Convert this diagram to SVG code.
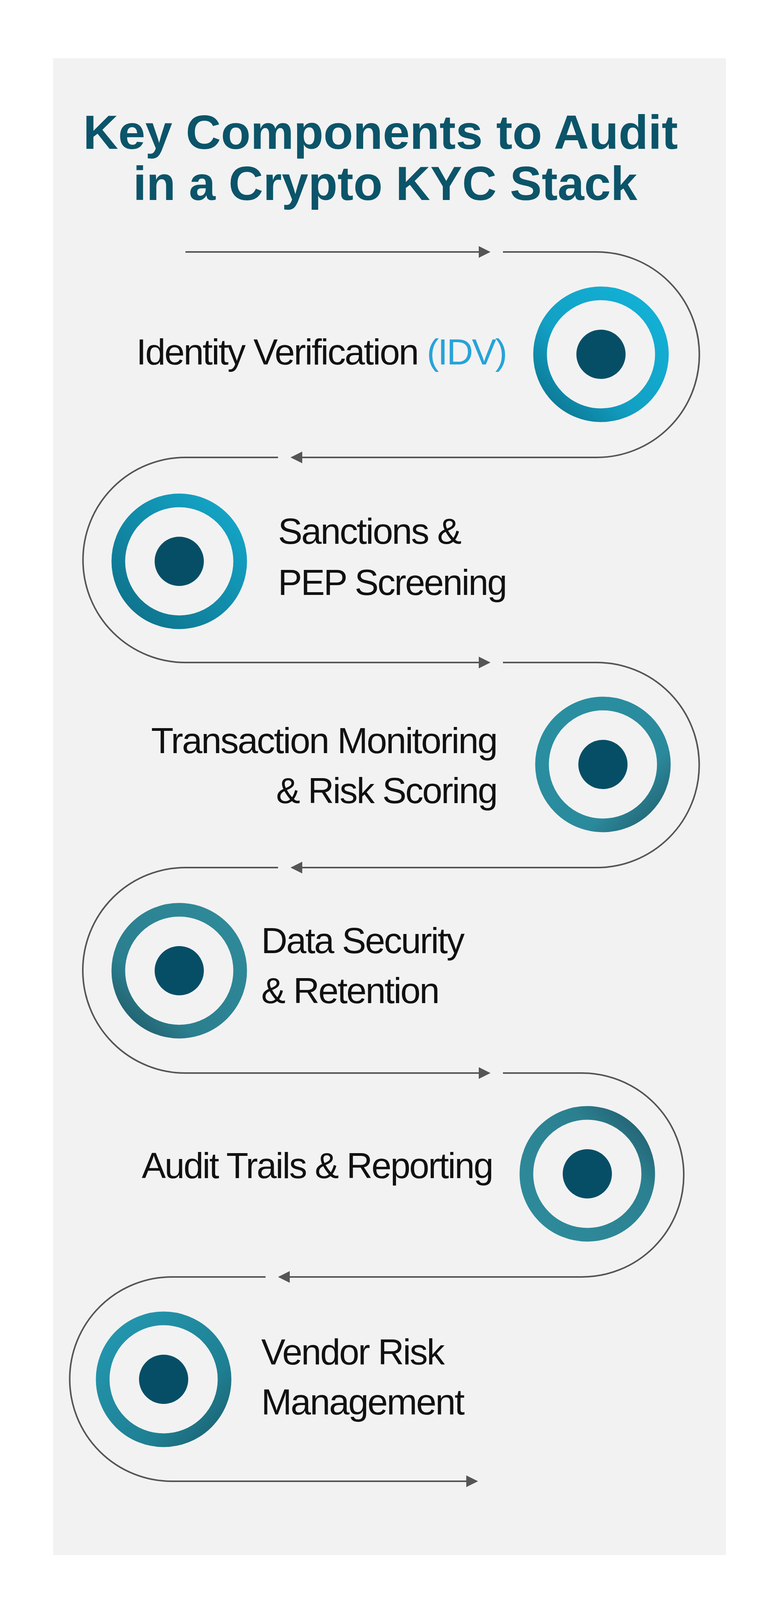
<svg xmlns="http://www.w3.org/2000/svg" width="2000" height="4192" viewBox="0 0 2000 4192">
<defs>
<style>
.t{font-family:"Liberation Sans",Arial,sans-serif;font-size:92px;fill:#111;letter-spacing:-3px}
.h{font-family:"Liberation Sans",Arial,sans-serif;font-weight:bold;font-size:122px;fill:#0b5469}
.c{fill:none;stroke:#555;stroke-width:4}
.dot{fill:#064e66}
</style>
<marker id="a" viewBox="0 0 10 10" refX="9" refY="5" markerWidth="30" markerHeight="30" markerUnits="userSpaceOnUse" orient="auto"><path d="M0 0L10 5L0 10z" fill="#555"/></marker>
<linearGradient id="g1" x1="1" y1="0" x2="0" y2="1"><stop offset="0" stop-color="#13b3d9"/><stop offset="0.6" stop-color="#12a0c4"/><stop offset="1" stop-color="#0c6f8a"/></linearGradient>
<linearGradient id="g2" x1="1" y1="0" x2="0" y2="1"><stop offset="0" stop-color="#14a9cc"/><stop offset="1" stop-color="#0e6f88"/></linearGradient>
<linearGradient id="g3" x1="0" y1="0" x2="1" y2="1"><stop offset="0" stop-color="#2a8fa2"/><stop offset="0.7" stop-color="#2a8a9c"/><stop offset="1" stop-color="#235d6c"/></linearGradient>
<linearGradient id="g4" x1="1" y1="0" x2="0" y2="1"><stop offset="0" stop-color="#2f8b9a"/><stop offset="0.7" stop-color="#2b7f8f"/><stop offset="1" stop-color="#1f5664"/></linearGradient>
<linearGradient id="g5" x1="0" y1="1" x2="1" y2="0"><stop offset="0" stop-color="#2e8c9c"/><stop offset="0.7" stop-color="#2b8090"/><stop offset="1" stop-color="#22596a"/></linearGradient>
<linearGradient id="g6" x1="0" y1="0" x2="1" y2="1"><stop offset="0" stop-color="#2399b2"/><stop offset="0.7" stop-color="#1f7f92"/><stop offset="1" stop-color="#1a5f6e"/></linearGradient>
</defs>
<rect width="2000" height="4192" fill="#fff"/>
<rect x="136" y="149" width="1723" height="3832" fill="#f2f2f2"/>
<g id="title">
<text class="h" x="213" y="381" textLength="1523" lengthAdjust="spacingAndGlyphs">Key Components to Audit</text>
<text class="h" x="341" y="512" textLength="1291" lengthAdjust="spacingAndGlyphs">in a Crypto KYC Stack</text>
</g>
<g id="connectors">
<path class="c" marker-end="url(#a)" d="M475 645H1253"/>
<path class="c" marker-end="url(#a)" d="M1288 645H1528A263 263 0 0 1 1528 1171H747"/>
<path class="c" marker-end="url(#a)" d="M712 1171H475A262.5 262.5 0 0 0 475 1696H1253"/>
<path class="c" marker-end="url(#a)" d="M1288 1696H1528A262.5 262.5 0 0 1 1528 2221H747"/>
<path class="c" marker-end="url(#a)" d="M712 2221H475A263 263 0 0 0 475 2747H1253"/>
<path class="c" marker-end="url(#a)" d="M1288 2747H1490A261 261 0 0 1 1490 3269H715"/>
<path class="c" marker-end="url(#a)" d="M680 3269H440A261.5 261.5 0 0 0 440 3792H1221"/>
</g>
<g id="n1">
<circle cx="1539" cy="907" r="156" fill="none" stroke="url(#g1)" stroke-width="35"/>
<circle class="dot" cx="1539" cy="907" r="63"/>
<text class="t" x="349" y="933" textLength="947" lengthAdjust="spacingAndGlyphs">Identity Verification <tspan fill="#27a3d9">(IDV)</tspan></text>
</g>
<g id="n2">
<circle cx="459" cy="1437" r="156" fill="none" stroke="url(#g2)" stroke-width="35"/>
<circle class="dot" cx="459" cy="1437" r="63"/>
<text class="t" x="712" y="1392" textLength="467" lengthAdjust="spacingAndGlyphs">Sanctions &amp;</text>
<text class="t" x="712" y="1523" textLength="584" lengthAdjust="spacingAndGlyphs">PEP Screening</text>
</g>
<g id="n3">
<circle cx="1544" cy="1957" r="156" fill="none" stroke="url(#g3)" stroke-width="35"/>
<circle class="dot" cx="1544" cy="1957" r="63"/>
<text class="t" x="387" y="1928" textLength="885" lengthAdjust="spacingAndGlyphs">Transaction Monitoring</text>
<text class="t" x="707" y="2056" textLength="565" lengthAdjust="spacingAndGlyphs">&amp; Risk Scoring</text>
</g>
<g id="n4">
<circle cx="459" cy="2485" r="156" fill="none" stroke="url(#g4)" stroke-width="35"/>
<circle class="dot" cx="459" cy="2485" r="63"/>
<text class="t" x="669" y="2440" textLength="518" lengthAdjust="spacingAndGlyphs">Data Security</text>
<text class="t" x="669" y="2568" textLength="454" lengthAdjust="spacingAndGlyphs">&amp; Retention</text>
</g>
<g id="n5">
<circle cx="1504" cy="3005" r="156" fill="none" stroke="url(#g5)" stroke-width="35"/>
<circle class="dot" cx="1504" cy="3005" r="63"/>
<text class="t" x="363" y="3016" textLength="898" lengthAdjust="spacingAndGlyphs">Audit Trails &amp; Reporting</text>
</g>
<g id="n6">
<circle cx="419" cy="3531" r="156" fill="none" stroke="url(#g6)" stroke-width="35"/>
<circle class="dot" cx="419" cy="3531" r="63"/>
<text class="t" x="669" y="3493" textLength="467" lengthAdjust="spacingAndGlyphs">Vendor Risk</text>
<text class="t" x="669" y="3621" textLength="518" lengthAdjust="spacingAndGlyphs">Management</text>
</g>
</svg>
